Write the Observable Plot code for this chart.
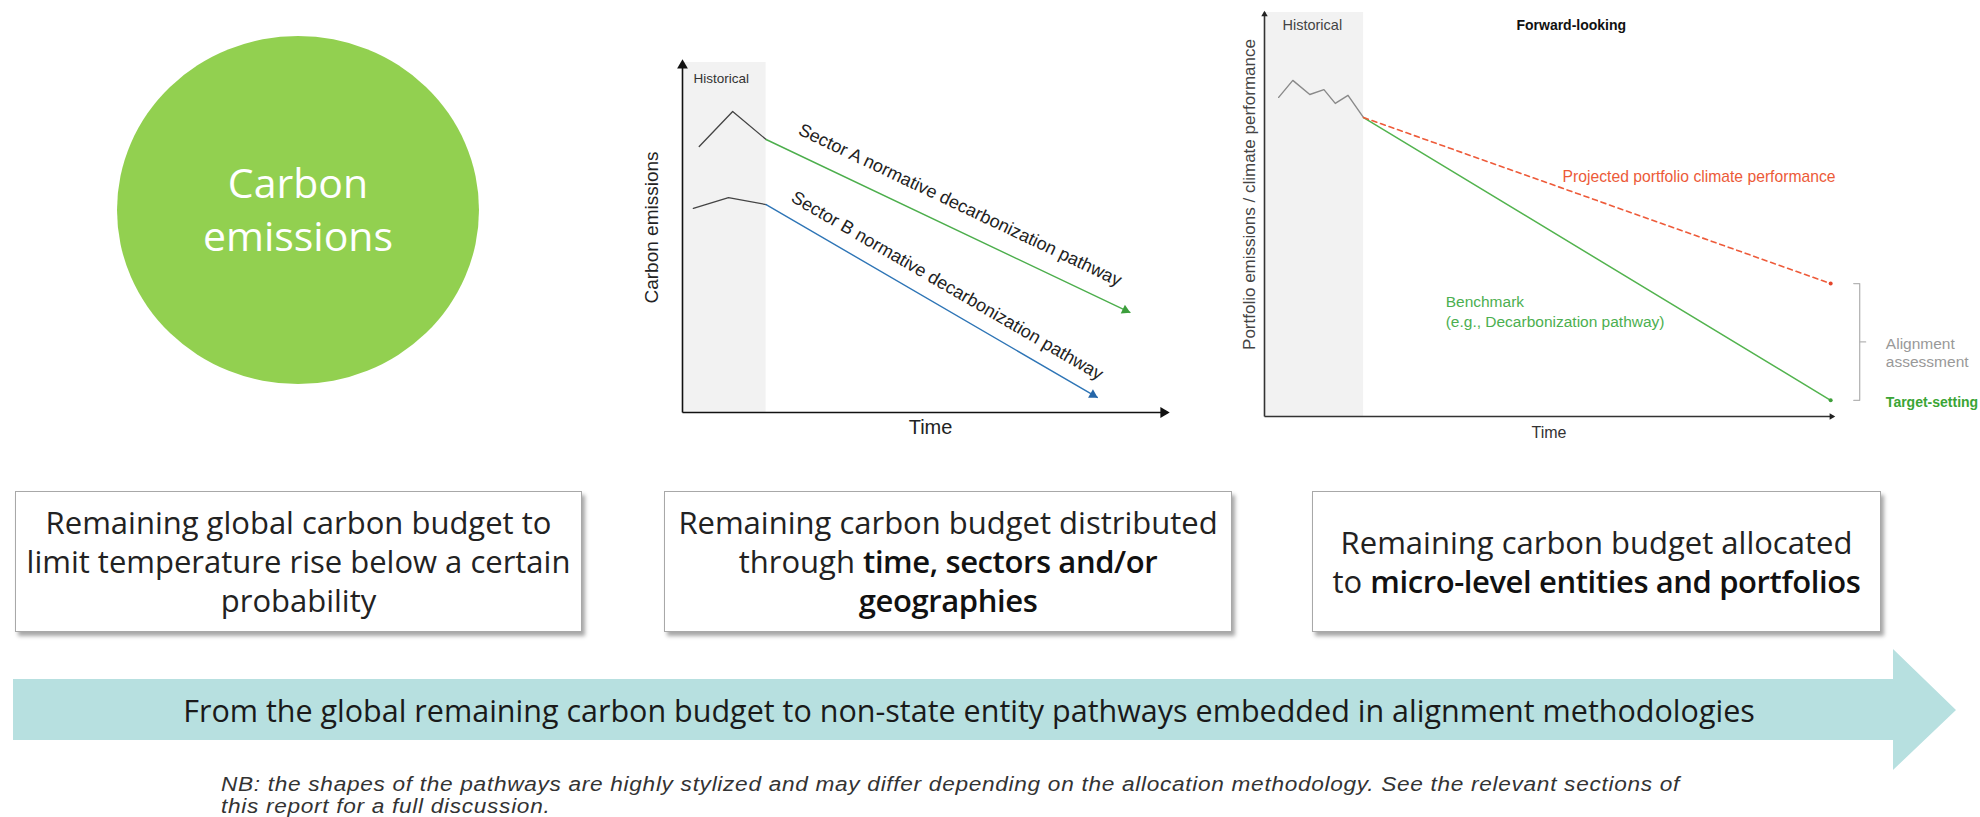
<!DOCTYPE html>
<html>
<head>
<meta charset="utf-8">
<script src="https://cdn.jsdelivr.net/npm/d3@7"></script>
<script src="https://cdn.jsdelivr.net/npm/@observablehq/plot@0.6"></script>
<style>
  html, body { margin: 0; padding: 0; background: #fff; }
  #root { position: relative; width: 1980px; height: 817px; overflow: hidden; background: #fff; }
  .abs { position: absolute; }
  .circle { left: 117px; top: 36px; width: 362px; height: 348px; border-radius: 50%; background: #92d050; }
  .circleText { left: 117px; top: 156px; width: 362px; text-align: center; color: #fff;
    font-family: "Open Sans", sans-serif; font-size: 41px; line-height: 53px; }
  .box { top: 491px; height: 141px; box-sizing: border-box; border: 1px solid #a8a8a8; background: #fff;
    box-shadow: 3px 4px 4px rgba(0,0,0,0.35); display: flex; align-items: center; justify-content: center;
    text-align: center; font-family: "Open Sans", sans-serif; font-size: 31px; line-height: 39px; color: #222; }
  .box b { font-weight: 600; color: #111; letter-spacing: -0.4px; }
  .bandText { left: 0; width: 1938px; top: 690px; text-align: center; font-family: "Open Sans", sans-serif;
    font-size: 30.5px; line-height: 40px; color: #1a1a1a; }
  .note { left: 221px; top: 773px; font-family: "Liberation Sans", Arial, sans-serif; font-style: italic;
    font-size: 19.5px; letter-spacing: 0.6px; line-height: 22px; color: #333; white-space: nowrap;
    transform-origin: 0 0; }
  .plot { position: absolute; }
</style>
</head>
<body>
<div id="root"></div>
<script>
// ---------------- data ----------------
const circleLabel = ["Carbon", "emissions"];
const boxTexts = [
  "Remaining global carbon budget to<br>limit temperature rise below a certain<br>probability",
  "Remaining carbon budget distributed<br>through <b>time, sectors and/or<br>geographies</b>",
  "Remaining carbon budget allocated<br>to <b>micro-level entities and portfolios</b>"
];
const bandLabel = "From the global remaining carbon budget to non-state entity pathways embedded in alignment methodologies";
const noteLines = [
  "NB: the shapes of the pathways are highly stylized and may differ depending on the allocation methodology. See the relevant sections of",
  "this report for a full discussion."
];

// middle chart (sector pathways)
const midTime = [0, 58];
const midEmis = [0, 100];
const midHistorical = [{start: 0, end: 10}];
const sectorAHist = [{t: 2, v: 76}, {t: 6, v: 86}, {t: 10, v: 78}];
const sectorAPath = [{t: 10, v: 78}, {t: 53.5, v: 28.6}];
const sectorBHist = [{t: 1.3, v: 58.3}, {t: 5.5, v: 61.4}, {t: 10, v: 59.4}];
const sectorBPath = [{t: 10, v: 59.4}, {t: 49.6, v: 4.3}];
const pathLabels = ["Sector A normative decarbonization pathway", "Sector B normative decarbonization pathway"];
const midAxisLabels = ["Carbon emissions", "Time", "Historical"];

// right chart (portfolio alignment)
const rightTime = [0, 40.2];
const rightPerf = [0, 100];
const rightHistorical = [{start: 0, end: 7}];
const portfolioHist = [{t: 1, v: 79.0}, {t: 2, v: 83.2}, {t: 3.2, v: 79.7}, {t: 4.2, v: 80.9},
                       {t: 5, v: 77.5}, {t: 5.9, v: 79.5}, {t: 7, v: 74.0}];
const benchmarkPath = [{t: 7, v: 74.0}, {t: 40, v: 4.0}];
const projectedPath = [{t: 7, v: 74.0}, {t: 40, v: 32.9}];
const rightLabels = {
  y: "Portfolio emissions / climate performance", x: "Time", hist: "Historical", fwd: "Forward-looking",
  proj: "Projected portfolio climate performance", bench: "Benchmark\n(e.g., Decarbonization pathway)",
  align: "Alignment\nassessment", target: "Target-setting"
};

// ---------------- static layout ----------------
const root = document.getElementById("root");
function el(cls, html, style) {
  const d = document.createElement("div");
  d.className = "abs " + cls;
  d.innerHTML = html;
  if (style) Object.assign(d.style, style);
  root.appendChild(d);
  return d;
}
el("circle", "");
el("circleText", circleLabel.join("<br>"));
const boxLefts = [15, 664, 1312], boxWidths = [567, 568, 569];
boxTexts.forEach((t, i) => el("box", "<div>" + t + "</div>", {left: boxLefts[i] + "px", width: boxWidths[i] + "px"}));

// arrow band
const ns = "http://www.w3.org/2000/svg";
const band = document.createElementNS(ns, "svg");
band.setAttribute("width", 1980); band.setAttribute("height", 817);
band.style.position = "absolute"; band.style.left = "0"; band.style.top = "0";
const poly = document.createElementNS(ns, "polygon");
poly.setAttribute("points", "13,679 1893,679 1893,649 1956,710 1893,770 1893,740 13,740");
poly.setAttribute("fill", "#b7e0e0");
band.appendChild(poly);
root.appendChild(band);
el("bandText", bandLabel);
const note = el("note", noteLines.map(l => "<div><span>" + l + "</span></div>").join(""));
// stretch the note so its first line spans the same width as in the reference
function fitNote() {
  note.style.transform = "none";
  const w = note.querySelector("span").getBoundingClientRect().width;
  if (w > 0) note.style.transform = "scaleX(" + (1459 / w) + ")";
}
fitNote();
if (document.fonts && document.fonts.ready) document.fonts.ready.then(fitNote);

// ---------------- helpers ----------------
const rad = Math.PI / 180;
function geom(W, H, ml, mr, mt, mb, xd, yd) {
  const kx = (W - ml - mr) / (xd[1] - xd[0]), ky = (H - mt - mb) / (yd[1] - yd[0]);
  return {
    angle: (a, b) => Math.atan2((a.v - b.v) * ky, (b.t - a.t) * kx) / rad,
    along: (a, b, f) => ({t: a.t + (b.t - a.t) * f, v: a.v + (b.v - a.v) * f})
  };
}
const normal = (deg, d) => ({dx: d * Math.sin(deg * rad), dy: -d * Math.cos(deg * rad)});
const back = (deg, d) => ({dx: -d * Math.cos(deg * rad), dy: -d * Math.sin(deg * rad)});

// ---------------- middle chart ----------------
{
  const W = 560, H = 400, ml = 62, mr = 13, mt = 22, mb = 28;
  const g = geom(W, H, ml, mr, mt, mb, midTime, midEmis);
  const aA = g.angle(...sectorAPath), aB = g.angle(...sectorBPath);
  const nA = normal(aA, 24), nB = normal(aB, 21);
  const hA = back(aA, 5), hB = back(aB, 5);
  const font = "'Liberation Sans', Arial, sans-serif";
  const chart = Plot.plot({
    width: W, height: H, marginLeft: ml, marginRight: mr, marginTop: mt, marginBottom: mb,
    x: {domain: midTime, axis: null}, y: {domain: midEmis, axis: null},
    style: {fontFamily: font, background: "transparent", overflow: "visible"},
    marks: [
      Plot.rect(midHistorical, {x1: "start", x2: "end", y1: () => midEmis[0], y2: () => midEmis[1], fill: "#f2f2f2"}),
      Plot.text([midAxisLabels[2]], {text: d => d, x: () => midHistorical[0].start, y: () => midEmis[1],
        textAnchor: "start", lineAnchor: "top", dx: 11, dy: 10.5, fontSize: 13.5, fill: "#333"}),
      // axes
      Plot.link([0], {x1: () => midTime[0], y1: () => midEmis[0], x2: () => midTime[1], y2: () => midEmis[0], stroke: "#111", strokeWidth: 1.6}),
      Plot.link([0], {x1: () => midTime[0], y1: () => midEmis[0], x2: () => midTime[0], y2: () => midEmis[1], stroke: "#111", strokeWidth: 1.6}),
      Plot.dot([0], {x: () => midTime[1], y: () => midEmis[0], symbol: "triangle", r: 4, fill: "#111", rotate: 90, dx: -4}),
      Plot.dot([0], {x: () => midTime[0], y: () => midEmis[1], symbol: "triangle", r: 4, fill: "#111", rotate: 0, dy: 3}),
      // historical
      Plot.line(sectorAHist, {x: "t", y: "v", stroke: "#444", strokeWidth: 1.3}),
      Plot.line(sectorBHist, {x: "t", y: "v", stroke: "#444", strokeWidth: 1.3}),
      // pathways
      Plot.line(sectorAPath, {x: "t", y: "v", stroke: "#4cae4c", strokeWidth: 1.4}),
      Plot.line(sectorBPath, {x: "t", y: "v", stroke: "#2e75b6", strokeWidth: 1.4}),
      Plot.dot([sectorAPath[1]], {x: "t", y: "v", symbol: "triangle", r: 3.6, fill: "#3c9e3c", rotate: 90 + aA, dx: hA.dx, dy: hA.dy}),
      Plot.dot([sectorBPath[1]], {x: "t", y: "v", symbol: "triangle", r: 3.6, fill: "#2566a8", rotate: 90 + aB, dx: hB.dx, dy: hB.dy}),
      // path labels
      Plot.text([g.along(...sectorAPath, 0.505)], {x: "t", y: "v", text: () => pathLabels[0], rotate: aA,
        dx: nA.dx, dy: nA.dy, fontSize: 18, fill: "#222", textAnchor: "middle", lineAnchor: "middle"}),
      Plot.text([g.along(...sectorBPath, 0.515)], {x: "t", y: "v", text: () => pathLabels[1], rotate: aB,
        dx: nB.dx, dy: nB.dy, fontSize: 18, fill: "#222", textAnchor: "middle", lineAnchor: "middle"}),
      // axis titles
      Plot.text([midAxisLabels[0]], {text: d => d, frameAnchor: "left", textAnchor: "middle", lineAnchor: "middle",
        rotate: -90, dx: -31, dy: -10, fontSize: 19, fill: "#222"}),
      Plot.text([midAxisLabels[1]], {text: d => d, frameAnchor: "bottom", textAnchor: "middle", dx: 5.5, dy: 15, fontSize: 20, fill: "#222", lineAnchor: "middle"})
    ]
  });
  chart.classList.add("plot");
  chart.style.left = "620px"; chart.style.top = "40px";
  root.appendChild(chart);
}

// ---------------- right chart ----------------
{
  const W = 780, H = 450, ml = 64, mr = 147, mt = 12, mb = 34;
  const end = benchmarkPath[1].t;
  const brX = end + 2.05, brL = end + 1.63, brR = end + 2.47, txtX = end + 3.9;
  const top = projectedPath[1].v, bot = benchmarkPath[1].v, mid = (top + bot) / 2;
  const bracket = [{t: brL, v: top}, {t: brX, v: top}, {t: brX, v: mid}, {t: brR, v: mid},
                   {t: brX, v: mid}, {t: brX, v: bot}, {t: brL, v: bot}];
  const font = "'Liberation Sans', Arial, sans-serif";
  const chart = Plot.plot({
    width: W, height: H, marginLeft: ml, marginRight: mr, marginTop: mt, marginBottom: mb,
    x: {domain: rightTime, axis: null}, y: {domain: rightPerf, axis: null},
    style: {fontFamily: font, background: "transparent", overflow: "visible"},
    marks: [
      Plot.rect(rightHistorical, {x1: "start", x2: "end", y1: () => rightPerf[0], y2: () => rightPerf[1], fill: "#f2f2f2"}),
      Plot.text([rightLabels.hist], {text: d => d, x: () => rightHistorical[0].start, y: () => rightPerf[1],
        textAnchor: "start", lineAnchor: "top", dx: 18, dy: 7.5, fontSize: 14.5, fill: "#444"}),
      Plot.text([rightLabels.fwd], {text: d => d, x: () => 17.8, y: () => rightPerf[1],
        textAnchor: "start", lineAnchor: "top", dy: 7.5, fontSize: 14, fontWeight: "bold", fill: "#111"}),
      // axes
      Plot.link([0], {x1: () => rightTime[0], y1: () => rightPerf[0], x2: () => rightTime[1], y2: () => rightPerf[0], stroke: "#333", strokeWidth: 1.6}),
      Plot.link([0], {x1: () => rightTime[0], y1: () => rightPerf[0], x2: () => rightTime[0], y2: () => rightPerf[1], stroke: "#333", strokeWidth: 1.6}),
      Plot.dot([0], {x: () => rightTime[1], y: () => rightPerf[0], symbol: "triangle", r: 2.4, fill: "#222", rotate: 90, dx: -2}),
      Plot.dot([0], {x: () => rightTime[0], y: () => rightPerf[1], symbol: "triangle", r: 2.4, fill: "#222", rotate: 0, dy: 2}),
      // lines
      Plot.line(portfolioHist, {x: "t", y: "v", stroke: "#8a8a8a", strokeWidth: 1.4}),
      Plot.line(benchmarkPath, {x: "t", y: "v", stroke: "#52b34e", strokeWidth: 1.5}),
      Plot.line(projectedPath, {x: "t", y: "v", stroke: "#ee5b3a", strokeWidth: 1.6, strokeDasharray: "5,4"}),
      Plot.dot([benchmarkPath[1]], {x: "t", y: "v", r: 2, fill: "#3f9f3b"}),
      Plot.dot([projectedPath[1]], {x: "t", y: "v", r: 2, fill: "#e4452a"}),
      // bracket
      Plot.line(bracket, {x: "t", y: "v", stroke: "#b5b5b5", strokeWidth: 1.3, curve: "linear"}),
      // labels
      Plot.text([rightLabels.proj], {text: d => d, x: () => 21.06, y: () => 59.2, textAnchor: "start",
        fontSize: 15.7, fill: "#ec5a38", lineAnchor: "middle"}),
      Plot.text([rightLabels.bench], {text: d => d, x: () => 12.8, y: () => 26.2, textAnchor: "start",
        fontSize: 15.5, lineHeight: 1.3, fill: "#4caf50", lineAnchor: "middle"}),
      Plot.text([rightLabels.align], {text: d => d, x: () => txtX, y: () => mid, textAnchor: "start",
        dy: 10, fontSize: 15.5, lineHeight: 1.18, fill: "#999", lineAnchor: "middle"}),
      Plot.text([rightLabels.target], {text: d => d, x: () => txtX, y: () => bot, textAnchor: "start",
        dy: 2, fontSize: 14, fontWeight: "bold", fill: "#3aa535", lineAnchor: "middle"}),
      // axis titles
      Plot.text([rightLabels.y], {text: d => d, frameAnchor: "left", textAnchor: "middle", lineAnchor: "middle",
        rotate: -90, dx: -15, dy: -20, fontSize: 17, fill: "#444"}),
      Plot.text([rightLabels.x], {text: d => d, frameAnchor: "bottom", textAnchor: "middle", dy: 16, fontSize: 16, fill: "#333", lineAnchor: "middle"})
    ]
  });
  chart.classList.add("plot");
  chart.style.left = "1200px"; chart.style.top = "0px";
  root.appendChild(chart);
}
</script>
</body>
</html>
